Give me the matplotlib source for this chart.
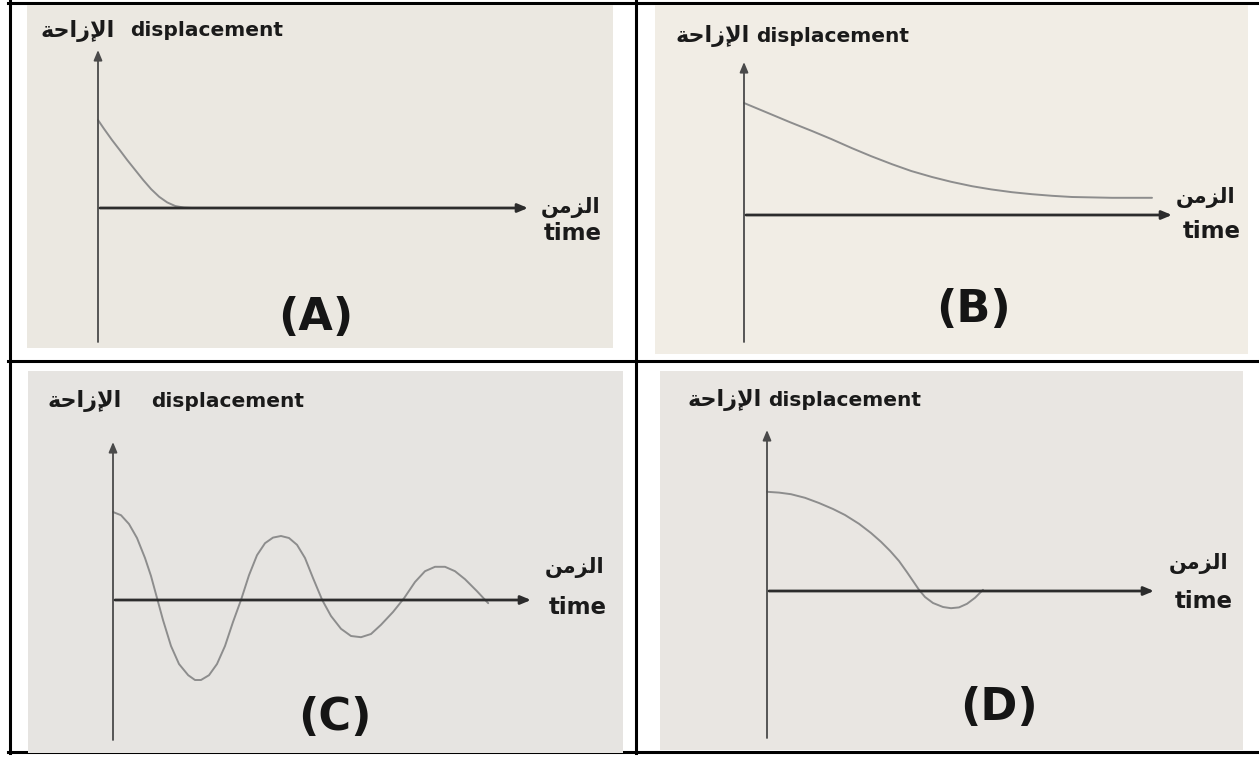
import matplotlib
matplotlib.use("Agg")
import matplotlib.pyplot as plt
from matplotlib.lines import Line2D

# ---------------- data ----------------
panel_labels = ["(A)", "(B)", "(C)", "(D)"]
y_label_en = "displacement"
y_label_ar = "\uFE94\uFEA3\uFE8D\uFEAF\uFEF9\uFE8D"   # الإزاحة (shaped, visual order)
x_label_en = "time"
x_label_ar = "\uFEE6\uFEE3\uFEB0\uFEDF\uFE8D"          # الزمن (shaped, visual order)

# (A) fast decay, no oscillation
a_time = [0.0, 0.15, 0.35, 0.55, 0.73, 0.93, 1.13, 1.33, 1.53, 1.73, 1.93, 2.15, 2.35, 2.6]
a_disp = [2.2, 1.98, 1.7, 1.44, 1.2, 0.95, 0.7, 0.47, 0.28, 0.14, 0.05, 0.01, 0.0, 0.0]

# (B) slow decay
b_time = [0.0, 0.6, 1.15, 1.7, 2.18, 2.7, 3.18, 3.7, 4.18, 4.7, 5.18, 5.7, 6.18,
          6.7, 7.2, 7.7, 8.2, 8.7, 9.2, 10.2]
b_disp = [2.8, 2.55, 2.32, 2.1, 1.9, 1.67, 1.47, 1.27, 1.1, 0.95, 0.83, 0.72, 0.64,
          0.57, 0.52, 0.48, 0.45, 0.44, 0.43, 0.43]

# (C) under-damped oscillation
c_time = [0.0, 0.2, 0.4, 0.6, 0.8, 0.95, 1.1, 1.25, 1.45, 1.65, 1.88, 2.05, 2.2,
          2.4, 2.6, 2.8, 3.0, 3.2, 3.4, 3.6, 3.8, 4.0, 4.2, 4.4, 4.6, 4.8, 5.0,
          5.23, 5.45, 5.7, 5.95, 6.2, 6.45, 6.7, 7.0, 7.28, 7.55, 7.8, 8.05, 8.3,
          8.55, 8.8, 9.1, 9.38]
c_disp = [2.2, 2.12, 1.9, 1.55, 1.05, 0.6, 0.05, -0.5, -1.15, -1.6, -1.88, -2.0, -2.0,
          -1.88, -1.6, -1.15, -0.55, 0.0, 0.62, 1.12, 1.42, 1.56, 1.6, 1.55, 1.38, 1.05, 0.55,
          0.0, -0.4, -0.72, -0.9, -0.93, -0.85, -0.62, -0.3, 0.05, 0.45, 0.72, 0.83, 0.83,
          0.72, 0.52, 0.22, -0.08]

# (D) decay with a single small overshoot
d_time = [0.0, 0.3, 0.6, 0.95, 1.3, 1.65, 1.95, 2.3, 2.6, 2.85, 3.08, 3.3, 3.5, 3.65,
          3.8, 3.95, 4.15, 4.4, 4.6, 4.8, 5.0, 5.2, 5.4]
d_disp = [2.48, 2.46, 2.42, 2.33, 2.2, 2.05, 1.9, 1.68, 1.45, 1.23, 1.0, 0.75, 0.47, 0.25,
          0.03, -0.15, -0.3, -0.4, -0.43, -0.41, -0.32, -0.17, 0.03]

curves = [(a_time, a_disp), (b_time, b_disp), (c_time, c_disp), (d_time, d_disp)]

# ---------------- layout (pixels) ----------------
W, H = 1259, 758
SX = SY = 40.0  # pixels per unit

panels = [
    dict(L=27, R=613, T=5, B=348, x0=98, y0=208, ybot=342, ytip=50, xtip=528,
         bg="#ebe8e1", ar_end=115, en_start=130, title_y=31,
         xar=(571, 208), xen=(573, 233), lab=(316, 317)),
    dict(L=655, R=1248, T=5, B=354, x0=744, y0=215, ybot=342, ytip=62, xtip=1172,
         bg="#f1ede5", ar_end=750, en_start=756, title_y=36,
         xar=(1206, 198), xen=(1212, 231), lab=(973, 310)),
    dict(L=28, R=623, T=371, B=753, x0=113, y0=600, ybot=740, ytip=442, xtip=531,
         bg="#e6e4e1", ar_end=122, en_start=151, title_y=401,
         xar=(575, 568), xen=(578, 607), lab=(335, 717)),
    dict(L=660, R=1243, T=371, B=750, x0=767, y0=591, ybot=738, ytip=430, xtip=1154,
         bg="#e9e6e2", ar_end=762, en_start=768, title_y=400,
         xar=(1199, 564), xen=(1204, 602), lab=(999, 707)),
]

fig = plt.figure(figsize=(W / 100, H / 100), dpi=100)
fig.patch.set_facecolor("white")

# table grid lines
def hline(y, x1, x2):
    fig.add_artist(Line2D([x1 / W, x2 / W], [1 - y / H, 1 - y / H], color="black",
                          lw=2.2, transform=fig.transFigure, zorder=-1))

def vline(x, y1, y2):
    fig.add_artist(Line2D([x / W, x / W], [1 - y1 / H, 1 - y2 / H], color="black",
                          lw=2.2, transform=fig.transFigure, zorder=-1))

hline(2.5, 8, W)
hline(361, 8, W)
hline(752, 8, W)
vline(9.5, 1, 753)
vline(636, 1, 753)

TXT = "#1a1a1a"
for p, (tt, dd), lab in zip(panels, curves, panel_labels):
    L, R, T, B, x0, y0 = p["L"], p["R"], p["T"], p["B"], p["x0"], p["y0"]
    ax = fig.add_axes([L / W, 1 - B / H, (R - L) / W, (B - T) / H], zorder=0)
    ax.set_xlim((L - x0) / SX, (R - x0) / SX)
    ax.set_ylim((y0 - B) / SY, (y0 - T) / SY)
    ax.set_facecolor(p["bg"])
    ax.set_xticks([]); ax.set_yticks([])
    for s in ax.spines.values():
        s.set_visible(False)

    def P(px, py):
        return ((px - x0) / SX, (y0 - py) / SY)

    # axes with arrows
    ax.annotate("", xy=P(x0, p["ytip"]), xytext=P(x0, p["ybot"]),
                arrowprops=dict(arrowstyle="-|>,head_length=0.6,head_width=0.25",
                                color="#4a4a4a", lw=1.3, shrinkA=0, shrinkB=0))
    ax.annotate("", xy=P(p["xtip"], y0), xytext=P(x0 + 2, y0),
                arrowprops=dict(arrowstyle="-|>,head_length=0.6,head_width=0.25",
                                color="#2c2c2c", lw=2.0, shrinkA=0, shrinkB=0))

    # curve
    ax.plot(tt, dd, color="#8d8d8d", lw=1.4, solid_capstyle="round",
            solid_joinstyle="round")

    # texts
    ax.text(*P(p["ar_end"], p["title_y"]), y_label_ar, ha="right", va="center",
            fontsize=16, fontweight="bold", family="DejaVu Sans", color=TXT)
    ax.text(*P(p["en_start"], p["title_y"]), y_label_en, ha="left", va="center",
            fontsize=14.5, fontweight="bold", family="DejaVu Sans", color=TXT)
    ax.text(*P(*p["xar"]), x_label_ar, ha="center", va="center",
            fontsize=15, fontweight="bold", family="DejaVu Sans", color=TXT)
    ax.text(*P(*p["xen"]), x_label_en, ha="center", va="center",
            fontsize=16.5, fontweight="bold", family="DejaVu Sans", color=TXT)
    ax.text(*P(*p["lab"]), lab, ha="center", va="center",
            fontsize=32, fontweight="bold", family="DejaVu Sans", color="#151515")

fig.savefig("out.png", dpi=100)
